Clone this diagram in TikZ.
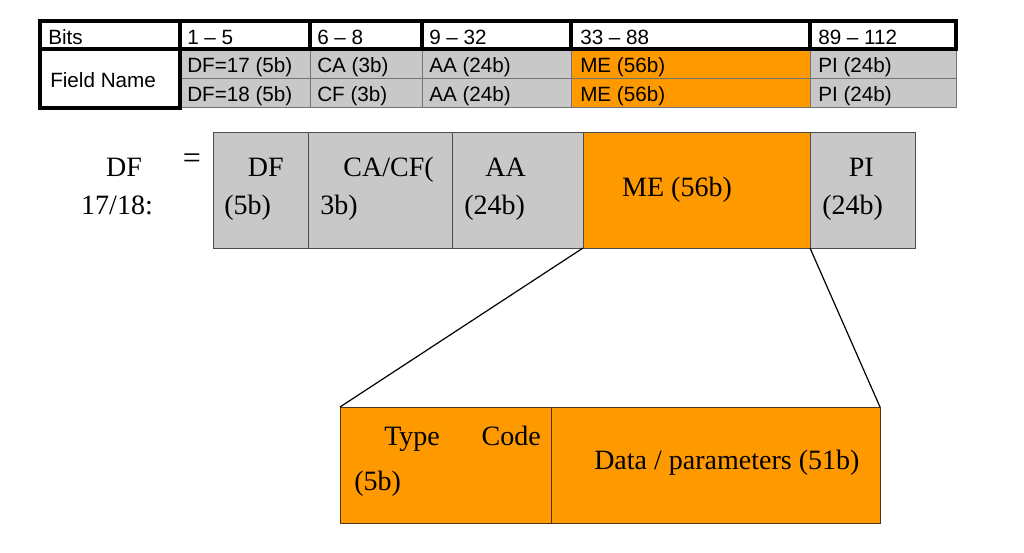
\documentclass[tikz,border=0pt]{standalone}
\usepackage{fontspec}
\setmainfont{Liberation Serif}
\newfontfamily\arialfont{Liberation Sans}
\usetikzlibrary{positioning}
\definecolor{cellgrey}{RGB}{200,200,200}
\definecolor{meorange}{RGB}{255,153,0}
\definecolor{rulegrey}{RGB}{115,115,115}
\definecolor{edgebrown}{RGB}{80,50,30}
\tikzset{
  thickrule/.style={line width=2.4pt},
  thinrule/.style={draw=rulegrey, line width=0.6pt},
  tabtext/.style={font=\arialfont\fontsize{15.5}{18}\selectfont, inner sep=0pt, anchor=base west},
  txt/.style={font=\fontsize{21}{24}\selectfont, inner sep=0pt},
  field/.style={draw=black!70, line width=0.6pt, outer sep=0pt, inner sep=0pt, minimum height=87pt, anchor=north west},
  greyfield/.style={field, fill=cellgrey},
  mefield/.style={field, fill=meorange},
}
\begin{document}
\begin{tikzpicture}[x=0.75pt,y=-0.75pt]
\useasboundingbox (0,0) rectangle (1024,553);
% bit table
\fill[cellgrey] (180,49) rectangle (956,107);
\fill[meorange] (571,49) rectangle (810,107);
\draw[thinrule] (180,78) -- (956,78);
\draw[thinrule] (180,107) -- (956,107) -- (956,49);
\foreach \x in {310,422,571,810} \draw[thinrule] (\x,49) -- (\x,107);
\draw[thickrule] (40,21) rectangle (956,49);
\foreach \x in {180,310,422,571,810} \draw[thickrule] (\x,21) -- (\x,49);
\draw[thickrule] (40,49) rectangle (180,108);
\node[tabtext] (bits) at (48,44) {Bits};
\node[tabtext] (fname) at (50,87) {Field Name};
\foreach \x/\t [count=\i] in {187/1 – 5, 317/6 – 8, 429/9 – 32, 580/33 – 88, 818/89 – 112}
  \node[tabtext] (hd\i) at (\x,44) {\t};
\foreach \x/\t [count=\i] in {187/DF=17 (5b), 317/CA (3b), 429/AA (24b), 580/ME (56b), 818/PI (24b)}
  \node[tabtext] (ra\i) at (\x,72) {\t};
\foreach \x/\t [count=\i] in {187/DF=18 (5b), 317/CF (3b), 429/AA (24b), 580/ME (56b), 818/PI (24b)}
  \node[tabtext] (rb\i) at (\x,101) {\t};
% DF 17/18 fields
\node[txt, anchor=base] (dflbl) at (124,176) {DF};
\node[txt, anchor=base] (numlbl) at (117,214) {17/18:};
\node[txt, anchor=base, font=\fontsize{24}{24}\selectfont] (eq) at (192,168) {=};
\node[greyfield, minimum width=71.25pt] (df) at (213,132) {};
\node[greyfield, minimum width=108pt, right=0pt of df] (cacf) {};
\node[greyfield, minimum width=98.25pt, right=0pt of cacf] (aa) {};
\node[mefield, minimum width=170.25pt, right=0pt of aa] (me) {};
\node[greyfield, minimum width=78.75pt, right=0pt of me] (pi) {};
\node[txt, anchor=base east] (dftop) at (284,176) {DF};
\node[txt, anchor=base west] (dfbot) at (224,214) {(5b)};
\node[txt, anchor=base east] (catop) at (434,176) {CA/CF(};
\node[txt, anchor=base west] (cabot) at (320,214) {3b)};
\node[txt, anchor=base east] (aatop) at (526,176) {AA};
\node[txt, anchor=base west] (aabot) at (464,214) {(24b)};
\node[txt, anchor=base] (metext) at (677,196) {ME (56b)};
\node[txt, anchor=base east] (pitop) at (874,176) {PI};
\node[txt, anchor=base west] (pibot) at (822,214) {(24b)};
% ME breakdown
\node[mefield, draw=edgebrown, minimum width=158.25pt] (tc) at (340,407) {};
\node[mefield, draw=edgebrown, minimum width=246.75pt, right=0pt of tc] (data) {};
\node[txt, anchor=base west] (tctop) at (384,445) {Type};
\node[txt, anchor=base east] (tccode) at (541,445) {Code};
\node[txt, anchor=base west] (tcbot) at (354,490) {(5b)};
\node[txt, anchor=base west] (datatext) at (594,469) {Data / parameters (51b)};
\draw[line width=0.9pt] (me.south west) -- (tc.north west);
\draw[line width=0.9pt] (me.south east) -- (data.north east);
\end{tikzpicture}
\end{document}
